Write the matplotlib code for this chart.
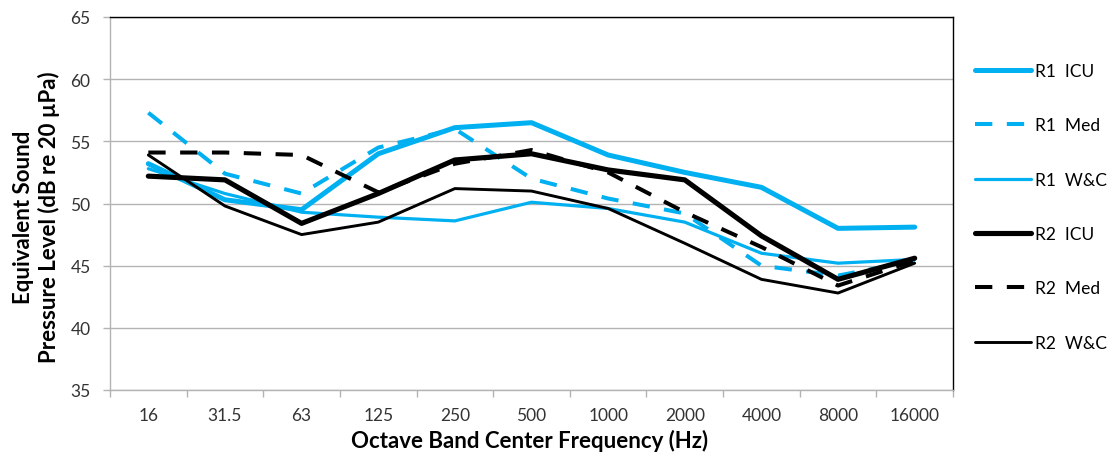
import matplotlib
matplotlib.use("Agg")
import matplotlib.pyplot as plt
import numpy as np

categories = ["16", "31.5", "63", "125", "250", "500", "1000", "2000", "4000", "8000", "16000"]
r1_icu = [53.2, 50.3, 49.5, 54.0, 56.1, 56.5, 53.9, 52.5, 51.3, 48.0, 48.1]
r1_med = [57.3, 52.4, 50.8, 54.5, 56.0, 52.0, 50.4, 49.2, 45.0, 44.2, 45.4]
r1_wc = [52.8, 50.8, 49.3, 48.9, 48.6, 50.1, 49.6, 48.5, 46.0, 45.2, 45.5]
r2_icu = [52.2, 51.9, 48.4, 50.8, 53.5, 54.0, 52.7, 51.9, 47.4, 43.9, 45.6]
r2_med = [54.1, 54.1, 53.9, 50.9, 53.2, 54.3, 52.5, 49.3, 46.5, 43.4, 45.4]
r2_wc = [53.9, 49.8, 47.5, 48.5, 51.2, 51.0, 49.6, 46.8, 43.9, 42.8, 45.2]
y_ticks = [35, 40, 45, 50, 55, 60, 65]

CYAN = "#00B0F0"
BLACK = "#000000"
FONT = "Lato"

plt.rcParams['font.family'] = [FONT, 'DejaVu Sans']

fig = plt.figure(figsize=(11.15, 4.56), dpi=100)
ax = fig.add_axes([110/1115, 1-391/456, (953-110)/1115, (391-18)/456])

x = np.arange(len(categories))
series = [
    ("R1  ICU", r1_icu, CYAN, 3.6, None),
    ("R1  Med", r1_med, CYAN, 2.9, (0, (4.3, 3.6))),
    ("R1  W&C", r1_wc, CYAN, 2.3, None),
    ("R2  ICU", r2_icu, BLACK, 3.7, None),
    ("R2  Med", r2_med, BLACK, 2.9, (0, (4.3, 3.6))),
    ("R2  W&C", r2_wc, BLACK, 2.1, None),
]
handles = []
for label, vals, col, lw, ls in series:
    kw = dict(color=col, lw=lw, solid_joinstyle='round', solid_capstyle='round',
              dash_joinstyle='round', dash_capstyle='butt', label=label)
    if ls is not None:
        kw['linestyle'] = ls
    h, = ax.plot(x, vals, **kw)
    handles.append(h)

ax.set_xlim(-0.5, len(categories) - 0.5)
ax.set_ylim(35, 65)
ax.set_yticks(y_ticks)
ax.set_yticklabels([str(v) for v in y_ticks])
ax.set_xticks(x)
ax.set_xticklabels(categories)
ax.set_xticks(np.arange(-0.5, len(categories), 1.0), minor=True)

ax.yaxis.grid(True, color="#b3b3b3", lw=1.0)
ax.set_axisbelow(True)

ax.tick_params(axis='x', which='major', length=0, pad=12, labelsize=12.5, labelcolor="#333333")
ax.tick_params(axis='x', which='minor', length=5, width=1, color="#b3b3b3", direction='out')
ax.tick_params(axis='y', which='major', length=5, width=1, color="#b3b3b3", pad=9,
               labelsize=12.5, labelcolor="#333333")

for s in ['left', 'bottom']:
    ax.spines[s].set_color("#b3b3b3")
    ax.spines[s].set_linewidth(1.0)
for s in ['top', 'right']:
    ax.spines[s].set_color("#000000")
    ax.spines[s].set_linewidth(1.0)

fig.text(530/1115, 1-441/456, "Octave Band Center Frequency (Hz)", fontsize=16,
         fontweight='bold', ha='center', va='center')
fig.text(36.5/1115, 1-217/456, "Equivalent Sound\nPressure Level (dB re 20 µPa)", fontsize=16,
         fontweight='bold', ha='center', va='center', rotation=90, multialignment='center',
         linespacing=1.2)

leg = fig.legend(handles=handles, loc='upper left', bbox_to_anchor=(975/1115, 1-64/456),
                 frameon=False, borderpad=0, borderaxespad=0, fontsize=12.5,
                 handlelength=3.2, handletextpad=0.25, labelspacing=2.21)

fig.savefig("out.png", dpi=100)
